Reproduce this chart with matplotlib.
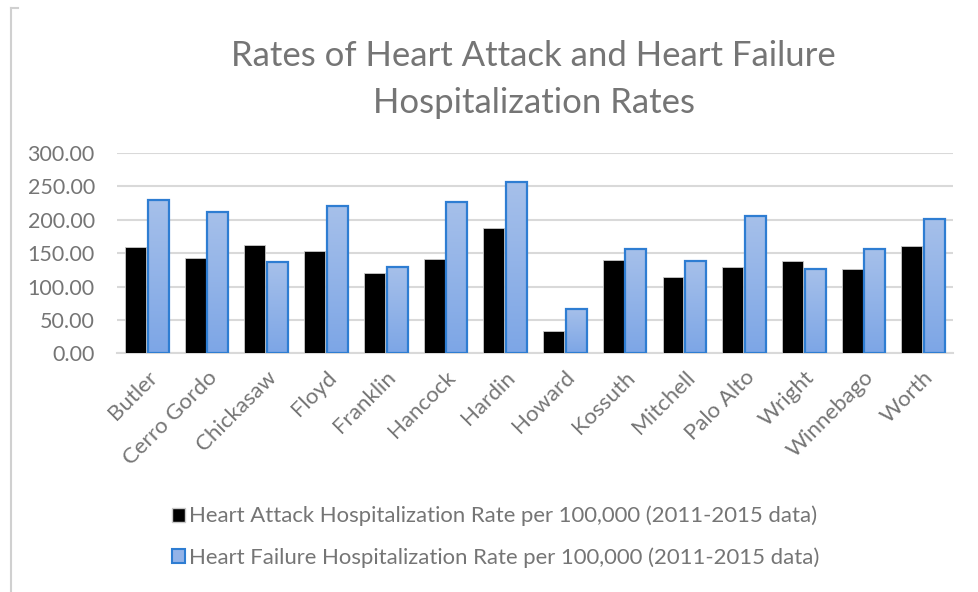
import matplotlib.pyplot as plt
import numpy as np
from matplotlib.patches import Patch
from matplotlib.lines import Line2D
from matplotlib.colors import LinearSegmentedColormap

plt.rcParams['font.family'] = ['Lato', 'DejaVu Sans']

counties = ['Butler', 'Cerro Gordo', 'Chickasaw', 'Floyd', 'Franklin', 'Hancock',
            'Hardin', 'Howard', 'Kossuth', 'Mitchell', 'Palo Alto', 'Wright',
            'Winnebago', 'Worth']
heart_attack = [159, 143, 163, 153, 121, 142, 187, 34, 140, 115, 129, 139, 127, 161]
heart_failure = [229, 212, 137, 220, 129, 227, 257, 66, 157, 139, 206, 127, 157, 201]
yticks = [0, 50, 100, 150, 200, 250, 300]

label_ha = 'Heart Attack Hospitalization Rate per 100,000 (2011-2015 data)'
label_hf = 'Heart Failure Hospitalization Rate per 100,000 (2011-2015 data)'

grey_text = '#757575'
blue_edge = '#2e7dd2'

fig = plt.figure(figsize=(9.79, 5.92), dpi=100)
ax = fig.add_axes([0.1195, 0.4029, 0.854, 0.3387])

x = np.arange(len(counties))
w = 0.35
bars_ha = ax.bar(x - 0.19, heart_attack, w, color='black', edgecolor='#c8c8c8',
                 linewidth=0.6, zorder=3)
bars_hf = ax.bar(x + 0.19, heart_failure, w, color='none', edgecolor=blue_edge,
                 linewidth=1.6, zorder=4)

# vertical gradient inside the blue bars
grad = np.linspace(0, 1, 100).reshape(-1, 1)
cmap = LinearSegmentedColormap.from_list('g', ['#7da6e6', '#a6c0ea'])
for b in bars_hf:
    x0, y0 = b.get_x(), b.get_y()
    im = ax.imshow(grad, cmap=cmap, aspect='auto', origin='lower',
                   extent=[x0, x0 + b.get_width(), y0, y0 + b.get_height()],
                   zorder=3.5)
    im.set_clip_path(b)

ax.set_xlim(-0.5, len(counties) - 0.5)
ax.set_ylim(0, 300)
ax.set_yticks(yticks)
ax.set_yticklabels([f'{v:.2f}' for v in yticks], fontsize=15.5, color=grey_text)
ax.set_xticks(x)
ax.set_xticklabels(counties, rotation=45, ha='right', rotation_mode='anchor',
                   fontsize=16, color=grey_text)
ax.tick_params(axis='y', length=0, pad=16)
ax.tick_params(axis='x', length=0, pad=10)
ax.yaxis.grid(True, color='#d9d9d9', linewidth=1.5, zorder=0)
ax.set_axisbelow(True)
for s in ['top', 'right', 'left']:
    ax.spines[s].set_visible(False)
ax.spines['bottom'].set_color('#d9d9d9')
ax.spines['bottom'].set_linewidth(1.5)

fig.text(0.545, 0.932, 'Rates of Heart Attack and Heart Failure\nHospitalization Rates',
         ha='center', va='top', fontsize=25, color=grey_text, linespacing=1.58)

handles = [Patch(facecolor='black', edgecolor='#c8c8c8'),
           Patch(facecolor='#93b3e8', edgecolor=blue_edge, linewidth=1.5)]
fig.legend(handles, [label_ha, label_hf], loc='center left',
           bbox_to_anchor=(0.155, 0.093), frameon=False, fontsize=15.9,
           labelcolor=grey_text, handlelength=0.6, handleheight=0.6,
           handletextpad=0.2, labelspacing=0.95)

# chart frame remnant at left
fig.add_artist(Line2D([0.0112, 0.0112], [0.0, 0.986], color='#d0d0d0', linewidth=1.5))
fig.add_artist(Line2D([0.0112, 0.018], [0.986, 0.986], color='#d0d0d0', linewidth=1.5))

fig.savefig('out.png', dpi=100)
